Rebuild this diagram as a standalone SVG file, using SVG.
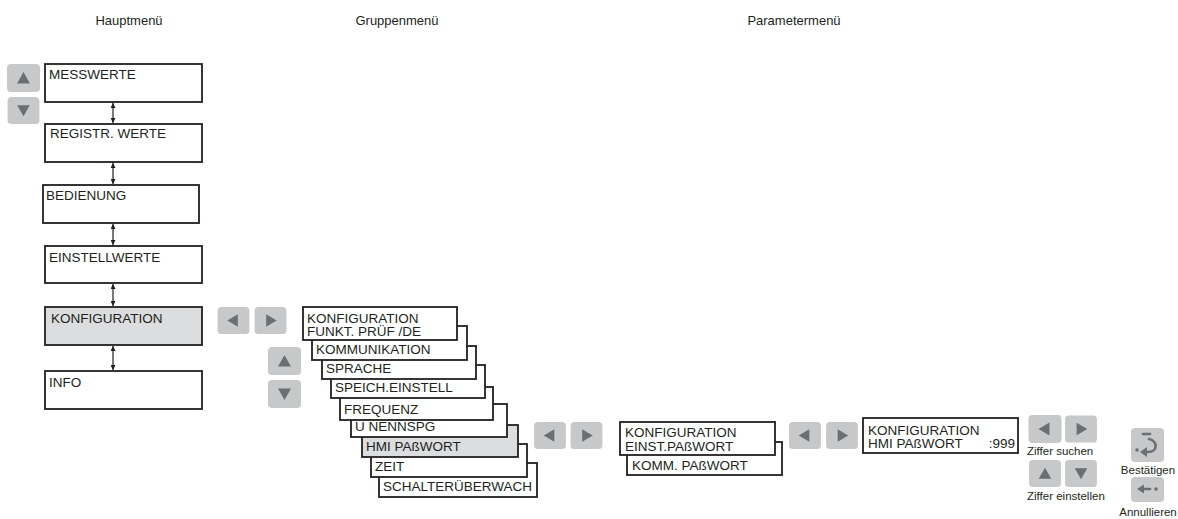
<svg xmlns="http://www.w3.org/2000/svg" width="1178" height="519" viewBox="0 0 1178 519">
<style>
  text { font-family: "Liberation Sans", Arial, sans-serif; fill: #231f20; }
  .hdr { font-size: 13px; }
  .t { font-size: 13.5px; }
  .s { font-size: 11.5px; }
  .box { fill: #ffffff; stroke: #231f20; stroke-width: 1.8; }
  .sel { fill: #dcdddf; stroke: #231f20; stroke-width: 1.8; }
  .btn { fill: #c7c8ca; }
  .tri { fill: #6d6e71; }
  .conn { stroke: #231f20; stroke-width: 1.2; fill: none; marker-start: url(#ah); marker-end: url(#ah); }
  .ic { stroke: #6d6e71; stroke-width: 2.6; fill: none; stroke-linecap: round; }
</style>
<defs>
  <marker id="ah" viewBox="0 0 10 10" refX="10" refY="5" markerWidth="5" markerHeight="5" orient="auto-start-reverse" markerUnits="userSpaceOnUse">
    <path d="M0,0 L10,5 L0,10 z" fill="#231f20"/>
  </marker>
  <symbol id="bL" viewBox="0 0 33 28"><rect class="btn" x="0" y="0" width="33" height="28" rx="4"/><path class="tri" d="M10,14 L21,7.5 L21,20.5 z"/></symbol>
  <symbol id="bR" viewBox="0 0 33 28"><rect class="btn" x="0" y="0" width="33" height="28" rx="4"/><path class="tri" d="M23,14 L12,7.5 L12,20.5 z"/></symbol>
  <symbol id="bU" viewBox="0 0 33 28"><rect class="btn" x="0" y="0" width="33" height="28" rx="4"/><path class="tri" d="M16.5,8 L23,19.5 L10,19.5 z"/></symbol>
  <symbol id="bD" viewBox="0 0 33 28"><rect class="btn" x="0" y="0" width="33" height="28" rx="4"/><path class="tri" d="M16.5,20 L23,8.5 L10,8.5 z"/></symbol>
</defs>

<g id="headers">
  <text class="hdr" x="129" y="25" text-anchor="middle">Hauptmenü</text>
  <text class="hdr" x="397" y="25" text-anchor="middle">Gruppenmenü</text>
  <text class="hdr" x="794" y="25" text-anchor="middle">Parametermenü</text>
</g>

<g id="connectors">
  <line class="conn" x1="113" y1="103" x2="113" y2="123"/>
  <line class="conn" x1="113" y1="163" x2="113" y2="184"/>
  <line class="conn" x1="113" y1="224" x2="113" y2="245"/>
  <line class="conn" x1="113" y1="284" x2="113" y2="306"/>
  <line class="conn" x1="113" y1="346" x2="113" y2="370"/>
</g>

<g id="main-buttons">
  <use href="#bU" x="7" y="64" width="33" height="28"/>
  <use href="#bD" x="7" y="97" width="33" height="27"/>
</g>

<g id="node-messwerte"><rect class="box" x="45" y="64" width="157" height="38"/><text class="t" x="49" y="79">MESSWERTE</text></g>
<g id="node-registr"><rect class="box" x="45" y="124" width="157" height="38"/><text class="t" x="50" y="138">REGISTR. WERTE</text></g>
<g id="node-bedienung"><rect class="box" x="43" y="185" width="156" height="38"/><text class="t" x="46" y="200">BEDIENUNG</text></g>
<g id="node-einstellwerte"><rect class="box" x="45" y="246" width="157" height="37"/><text class="t" x="49" y="262">EINSTELLWERTE</text></g>
<g id="node-konfiguration"><rect class="sel" x="45" y="307" width="157" height="38"/><text class="t" x="51" y="323">KONFIGURATION</text></g>
<g id="node-info"><rect class="box" x="45" y="371" width="157" height="38"/><text class="t" x="49" y="387">INFO</text></g>

<g id="group-buttons">
  <use href="#bL" x="217" y="307" width="33" height="27"/>
  <use href="#bR" x="254" y="307" width="33" height="27"/>
  <use href="#bU" x="268" y="347" width="33" height="28"/>
  <use href="#bD" x="268" y="380" width="33" height="28"/>
</g>

<g id="group-stack">
  <g id="node-schalter"><rect class="box" x="379" y="463" width="158" height="34"/><text class="t" x="383" y="491">SCHALTERÜBERWACH</text></g>
  <g id="node-zeit"><rect class="box" x="371" y="444" width="156" height="33"/><text class="t" x="375" y="471">ZEIT</text></g>
  <g id="node-hmi"><rect class="sel" x="362" y="425" width="156" height="32"/><text class="t" x="366" y="451">HMI PAßWORT</text></g>
  <g id="node-unennspg"><rect class="box" x="351" y="404" width="156" height="33"/><text class="t" x="355" y="431">U NENNSPG</text></g>
  <g id="node-frequenz"><rect class="box" x="340" y="387" width="153" height="33"/><text class="t" x="344" y="414">FREQUENZ</text></g>
  <g id="node-speich"><rect class="box" x="331" y="365" width="154" height="33"/><text class="t" x="335" y="392">SPEICH.EINSTELL</text></g>
  <g id="node-sprache"><rect class="box" x="322" y="346" width="154" height="33"/><text class="t" x="326" y="373">SPRACHE</text></g>
  <g id="node-kommunikation"><rect class="box" x="312" y="326" width="155" height="34"/><text class="t" x="316" y="354">KOMMUNIKATION</text></g>
  <g id="node-funkt"><rect class="box" x="303" y="307" width="154" height="33"/><text class="t" x="307" y="323">KONFIGURATION</text><text class="t" x="307" y="336">FUNKT. PRÜF /DE</text></g>
</g>

<g id="param-buttons-1">
  <use href="#bL" x="533" y="422" width="34" height="27"/>
  <use href="#bR" x="570" y="422" width="33" height="27"/>
</g>

<g id="param-stack">
  <g id="node-komm-pw"><rect class="box" x="627" y="442" width="155" height="33"/><text class="t" x="632" y="470">KOMM. PAßWORT</text></g>
  <g id="node-einst-pw"><rect class="box" x="620" y="422" width="155" height="33"/><text class="t" x="625" y="437">KONFIGURATION</text><text class="t" x="625" y="451">EINST.PAßWORT</text></g>
</g>

<g id="param-buttons-2">
  <use href="#bL" x="788" y="422" width="34" height="27"/>
  <use href="#bR" x="826" y="422" width="32" height="27"/>
</g>

<g id="node-hmi-pw">
  <rect class="box" x="863" y="418" width="155" height="35"/>
  <text class="t" x="868" y="435">KONFIGURATION</text>
  <text class="t" x="868" y="448">HMI PAßWORT</text>
  <text class="t" x="1015" y="448" text-anchor="end">:999</text>
</g>

<g id="legend-ziffer">
  <use href="#bL" x="1028" y="415" width="34" height="28"/>
  <use href="#bR" x="1065" y="415" width="32" height="28"/>
  <text class="s" x="1027" y="455">Ziffer suchen</text>
  <use href="#bU" x="1028" y="460" width="34" height="27"/>
  <use href="#bD" x="1065" y="460" width="32" height="27"/>
  <text class="s" x="1027" y="500">Ziffer einstellen</text>
</g>

<g id="legend-bestaetigen">
  <rect class="btn" x="1131" y="428" width="33" height="34" rx="4"/>
  <path class="ic" d="M1143,434 L1150,434"/>
  <path class="ic" d="M1149,439 C1158,441 1158,452 1148,452 L1145,452"/>
  <path class="tri" d="M1140,452 L1147,447 L1147,457 z"/>
  <circle class="tri" cx="1137" cy="450" r="1.8"/>
  <text class="s" x="1148" y="474" text-anchor="middle">Bestätigen</text>
</g>

<g id="legend-annullieren">
  <rect class="btn" x="1131" y="477" width="33" height="25" rx="4"/>
  <path class="ic" d="M1143,489 L1150,489"/>
  <path class="tri" d="M1137,489 L1144,484.5 L1144,493.5 z"/>
  <circle class="tri" cx="1156" cy="489" r="1.8"/>
  <text class="s" x="1148" y="516" text-anchor="middle">Annullieren</text>
</g>
</svg>
